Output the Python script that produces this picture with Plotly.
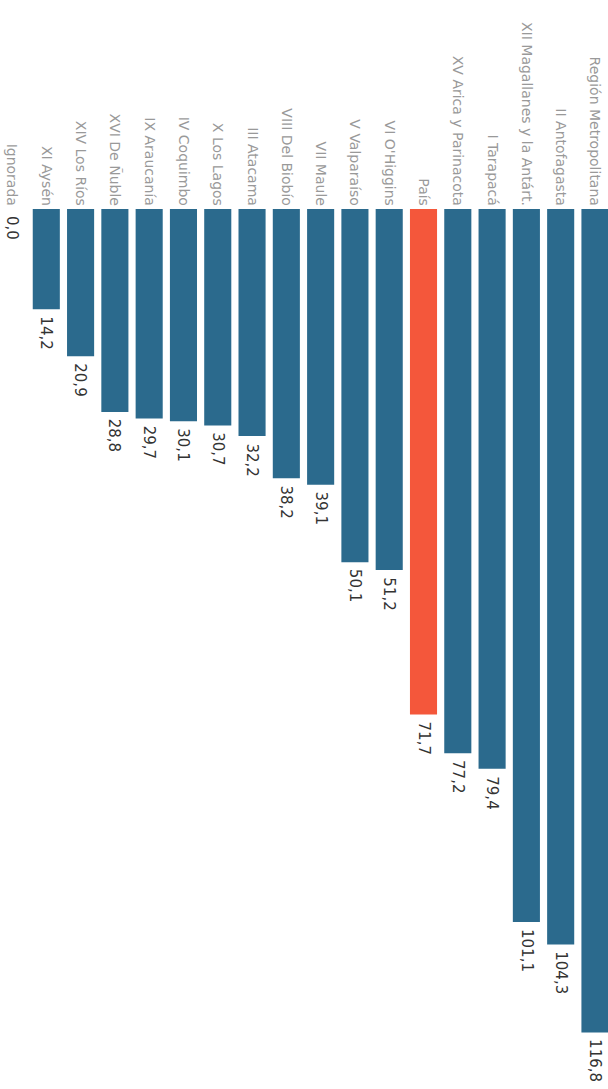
import plotly.graph_objects as go

categories = ["Ignorada", "XI Aysén", "XIV Los Ríos", "XVI De Ñuble", "IX Araucanía",
              "IV Coquimbo", "X Los Lagos", "III Atacama", "VIII Del Biobío", "VII Maule",
              "V Valparaíso", "VI O'Higgins", "País", "XV Arica y Parinacota", "I Tarapacá",
              "XII Magallanes y la Antárt.", "II Antofagasta", "Región Metropolitana"]
values = [0.0, 14.2, 20.9, 28.8, 29.7, 30.1, 30.7, 32.2, 38.2, 39.1, 50.1, 51.2,
          71.7, 77.2, 79.4, 101.1, 104.3, 116.8]

BLUE = "#2b6a8d"
RED = "#f4573b"
colors = [RED if c == "País" else BLUE for c in categories]
FONT = "DejaVu Sans, Arial, sans-serif"

fig = go.Figure(go.Bar(
    x=categories, y=values,
    marker=dict(color=colors, line=dict(width=0)),
    hoverinfo="x+y",
))

annotations = [
    dict(x=c, y=v, xref="x", yref="y", text=f"{v:.1f}".replace(".", ","),
         textangle=90, showarrow=False, xanchor="center", yanchor="top", yshift=-5,
         font=dict(family=FONT, size=15, color="#333333"))
    for c, v in zip(categories, values)
]

fig.update_layout(
    width=608, height=1089,
    margin=dict(l=0, r=0, t=209, b=0, autoexpand=False),
    paper_bgcolor="white", plot_bgcolor="white",
    bargap=0.21,
    showlegend=False,
    annotations=annotations,
    xaxis=dict(side="top", tickangle=90, showgrid=False, showline=False, ticks="",
               automargin=False, range=[-0.35, 17.38], ticklabelstandoff=0,
               tickfont=dict(family=FONT, size=14, color="#999999")),
    yaxis=dict(range=[124.8, 0], visible=False, showgrid=False, zeroline=False,
               automargin=False),
)

fig.write_html("out.html", config={"displayModeBar": False},
               post_script="document.body.style.margin='0';document.body.style.overflow='hidden';")
